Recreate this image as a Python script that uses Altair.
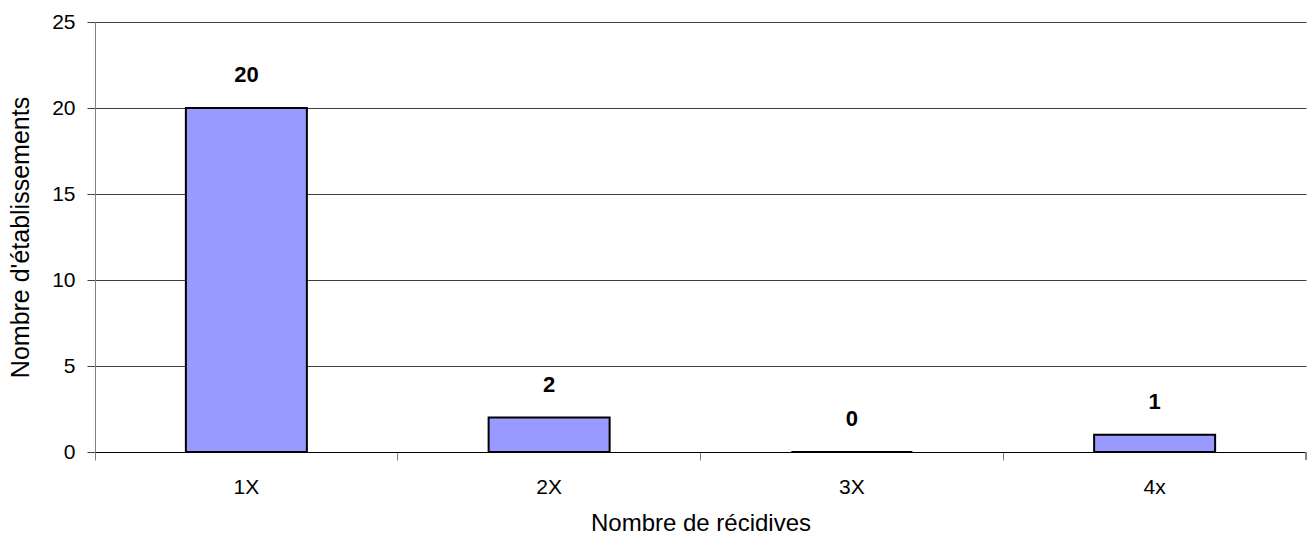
import altair as alt
import pandas as pd

categories = ["1X", "2X", "3X", "4x"]
counts = [20, 2, 0, 1]

df = pd.DataFrame({"recidives": categories, "etablissements": counts})

W, H = 1211, 430
FONT = "Liberation Sans"

x = alt.X(
    "recidives:N",
    sort=categories,
    scale=alt.Scale(paddingInner=0, paddingOuter=0),
    axis=alt.Axis(
        title="Nombre de récidives",
        labelAngle=0,
        bandPosition=0,
        tickSize=8,
        tickColor="#808080",
        domainColor="#000000",
        labelFontSize=21,
        titleFontSize=24,
        labelPadding=16,
        titlePadding=14,
        labelFont=FONT,
        titleFont=FONT,
        titleFontWeight="normal",
        labelColor="#000000",
        titleColor="#000000",
    ),
)

y = alt.Y(
    "etablissements:Q",
    scale=alt.Scale(domain=[0, 25]),
    axis=alt.Axis(
        title="Nombre d'établissements",
        values=[0, 5, 10, 15, 20, 25],
        tickSize=8,
        tickColor="#404040",
        domainColor="#808080",
        gridColor="#404040",
        gridWidth=1,
        labelFontSize=21,
        titleFontSize=25,
        labelPadding=12,
        titlePadding=18,
        labelFont=FONT,
        titleFont=FONT,
        titleFontWeight="normal",
        labelColor="#000000",
        titleColor="#000000",
    ),
)

bars = alt.Chart(df).mark_bar(
    size=121, color="#9999FF", stroke="#000000", strokeWidth=2
).encode(x=x, y=y)

labels = alt.Chart(df).mark_text(
    dy=-33, fontSize=22, fontWeight="bold", font=FONT, color="#000000"
).encode(x=x, y=y, text="etablissements:Q")

# closing tick at the right end of the category axis
end_tick = alt.Chart(df).mark_rule(color="#808080").encode(
    x=alt.value(W), y=alt.value(H), y2=alt.value(H + 8)
)

chart = (
    alt.layer(bars, labels, end_tick)
    .properties(
        width=W,
        height=H,
        autosize=alt.AutoSizeParams(type="none"),
        padding={"left": 95, "top": 22, "right": 1, "bottom": 85},
    )
    .configure_view(stroke=None)
    .configure_axis(grid=False)
    .configure_axisY(grid=True)
)

chart.save("out.html", embed_options={"renderer": "svg", "actions": False})
